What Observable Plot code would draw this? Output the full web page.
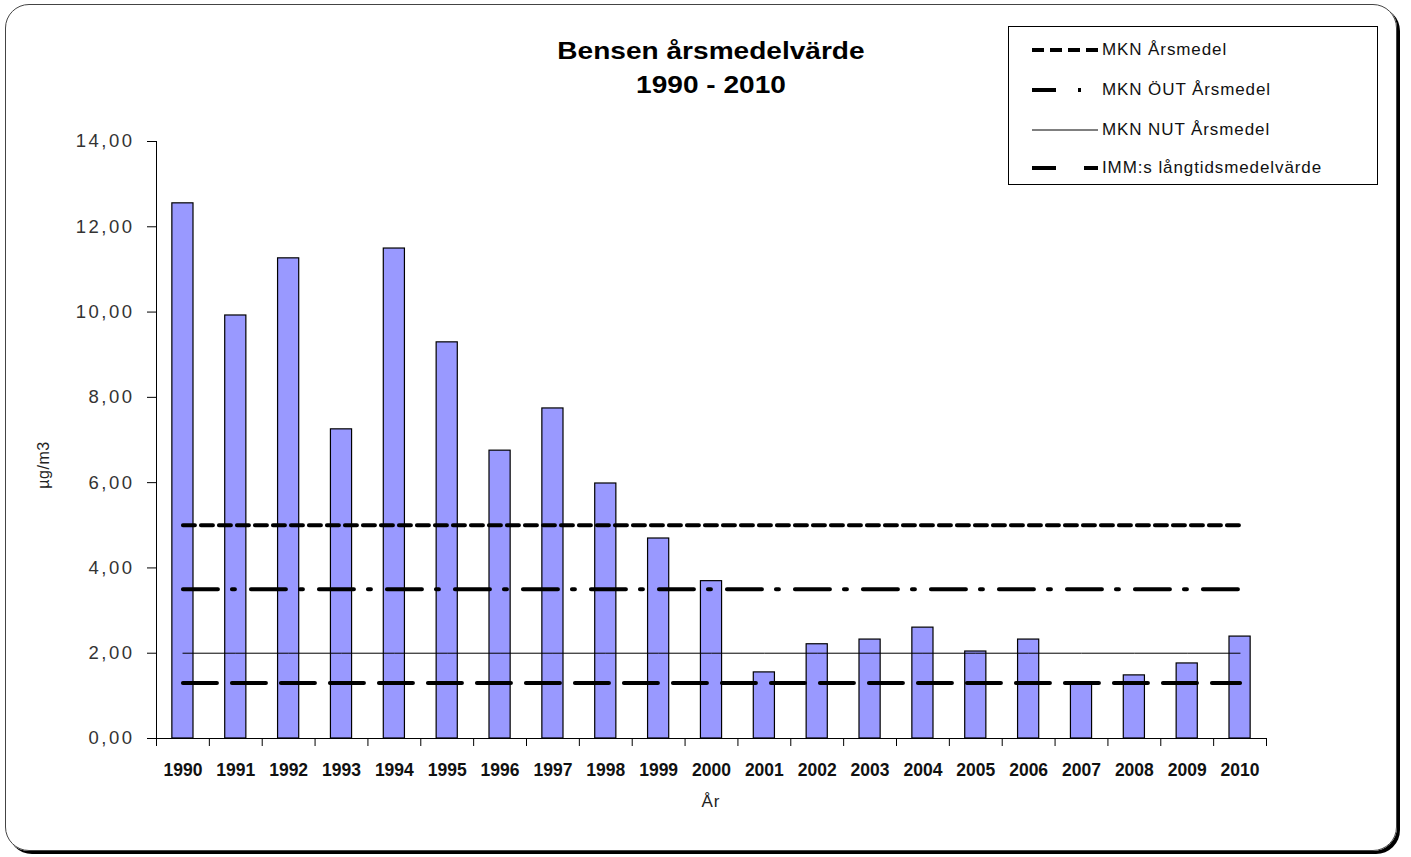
<!DOCTYPE html>
<html><head><meta charset="utf-8">
<script src="https://cdn.jsdelivr.net/npm/d3@7"></script>
<script src="https://cdn.jsdelivr.net/npm/@observablehq/plot@0.6"></script>
<style>
body{margin:0;background:#fff;font-family:Arial,"Liberation Sans",sans-serif;}
#wrap{position:relative;width:1411px;height:857px;overflow:hidden;background:#fff}
#frame{position:absolute;left:5px;top:4px;width:1390px;height:845px;border:1.5px solid #444;border-radius:24px;box-shadow:3px 3px 0 #000;}
#chart{position:absolute;left:0;top:0}
#chart g[aria-label="y-axis tick label"]{letter-spacing:2.5px}
#title{position:absolute;left:411px;width:600px;top:34px;text-align:center;font-weight:bold;font-size:23px;line-height:34px;color:#000;transform:scaleX(1.22);transform-origin:50% 50%}
#ylab{position:absolute;left:44px;top:465px;transform:translate(-50%,-50%) rotate(-90deg);font-size:16px;color:#222;white-space:nowrap;letter-spacing:0.5px}
#xlab{position:absolute;left:711px;top:802px;transform:translate(-50%,-50%);font-size:17px;color:#222;letter-spacing:1px}
#legend{position:absolute;left:1008px;top:26px;width:370px;height:159px;border:1px solid #000;background:#fff;box-sizing:border-box}
.row{position:absolute;left:23px;height:20px;display:flex;align-items:center}
.row span{font-size:17px;color:#111;margin-left:4px;white-space:nowrap;letter-spacing:0.9px}
</style></head>
<body>
<div id="wrap">
  <div id="frame"></div>
  <div id="chart"></div>
  <div id="title">Bensen årsmedelvärde<br>1990 - 2010</div>
  <div id="ylab">µg/m3</div>
  <div id="xlab">År</div>
  <div id="legend"></div>
</div>
<script>
const years = ["1990","1991","1992","1993","1994","1995","1996","1997","1998","1999","2000","2001","2002","2003","2004","2005","2006","2007","2008","2009","2010"];
const values = [12.55, 9.92, 11.26, 7.25, 11.49, 9.29, 6.75, 7.74, 5.98, 4.69, 3.69, 1.55, 2.21, 2.32, 2.60, 2.04, 2.32, 1.30, 1.48, 1.76, 2.39];
const limitNames = ["MKN Årsmedel", "MKN ÖUT Årsmedel", "MKN NUT Årsmedel", "IMM:s långtidsmedelvärde"];
const limitValues = [5, 3.5, 2, 1.3];
const yTicks = [0, 2, 4, 6, 8, 10, 12, 14];

const lineStyles = [
  {strokeWidth: 4, dash: "12,6", legendDash: "12,6"},
  {strokeWidth: 4, dash: "35,14,3,16", legendDash: "24,22,3,100"},
  {strokeWidth: 1, dash: null, legendDash: null},
  {strokeWidth: 4, dash: "34,15", legendDash: "24,28,14"}
];

const W = 1411, H = 857, ML = 156, MR = 145, MT = 141, MB = 119;
const step = (W - ML - MR) / years.length;
const data = years.map((y, i) => ({year: y, value: values[i]}));
const fmt = d => d3.format(".2f")(d).replace(".", ",");

const marks = [
  Plot.barY(data, {x: "year", y: "value", fill: "#9999ff", stroke: "#000", strokeWidth: 1.2}),
  ...limitValues.map((v, k) => Plot.lineY(years, {
    x: d => d, y: () => v, stroke: "#000",
    strokeWidth: lineStyles[k].strokeWidth,
    strokeDasharray: lineStyles[k].dash
  })),
  Plot.ruleY([0], {stroke: "#000", strokeWidth: 1}),
  Plot.ruleX([years[0]], {dx: -step / 2, stroke: "#000", strokeWidth: 1}),
  Plot.axisY({ticks: yTicks, tickSize: 9, tickPadding: 13, tickFormat: fmt, fontSize: 18.5, label: null, color: "#333", stroke: "#000"}),
  Plot.axisX({ticks: years, tickSize: 8, tickFormat: () => "", dx: -step / 2, label: null, stroke: "#000"}),
  Plot.axisX({ticks: [years[years.length - 1]], tickSize: 8, tickFormat: () => "", dx: step / 2, label: null, stroke: "#000"}),
  Plot.axisX({ticks: years, tickSize: 0, tickPadding: 25, fontSize: 17.5, fontWeight: "bold", label: null, fill: "#111"})
];

const chart = Plot.plot({
  width: W, height: H,
  marginLeft: ML, marginRight: MR, marginTop: MT, marginBottom: MB,
  style: {background: "transparent", fontFamily: "Arial, 'Liberation Sans', sans-serif"},
  x: {type: "band", domain: years, paddingInner: 0.6, paddingOuter: 0.3, round: false},
  y: {domain: [0, 14]},
  marks
});
document.getElementById("chart").appendChild(chart);

// legend
const leg = document.getElementById("legend");
const rowTops = [13, 53, 93, 131];
limitNames.forEach((name, k) => {
  const row = document.createElement("div");
  row.className = "row";
  row.style.top = rowTops[k] + "px";
  const s = lineStyles[k];
  row.innerHTML = `<svg width="66" height="20"><line x1="0" x2="66" y1="10" y2="10" stroke="#000" stroke-width="${s.strokeWidth}" ${s.legendDash ? `stroke-dasharray="${s.legendDash}"` : ""}/></svg><span>${name}</span>`;
  leg.appendChild(row);
});
</script>
</body></html>
